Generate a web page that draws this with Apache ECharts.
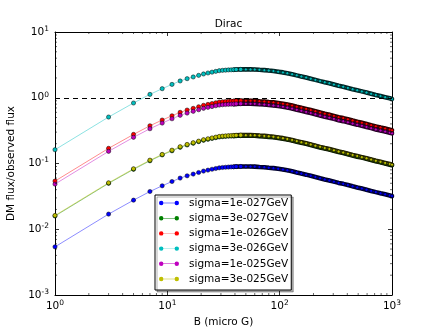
<!DOCTYPE html>
<html>
<head>
<meta charset="utf-8">
<script src="https://cdn.jsdelivr.net/npm/echarts@6/dist/echarts.min.js"></script>
<style>
  html, body { margin: 0; padding: 0; background: #fff; }
  #chart { width: 436px; height: 329px; }
</style>
</head>
<body>
<div id="chart"></div>
<script>
const FONT = "DejaVu Sans";

// magnetic field B (micro G), one entry per plotted point
const bField = [1, 3, 5, 7, 9, 11, 13, 15, 17, 19, 21, 23, 25, 27, 29,
  31, 33, 35, 37, 39, 41,
  45, 50, 55, 60, 66, 73, 80, 88, 97, 107, 117, 129, 142, 156, 172, 189, 208, 229,
  252, 277, 304, 335, 368, 405, 446, 490, 539, 593, 652, 718, 790, 869, 956, 1000];

const sigmaLabels = [
  "sigma=1e-027GeV", "sigma=3e-027GeV", "sigma=1e-026GeV",
  "sigma=3e-026GeV", "sigma=1e-025GeV", "sigma=3e-025GeV"
];
const sigmaColors = ["#0000ff", "#008000", "#ff0000", "#00bfbf", "#bf00bf", "#bfbf00"];
// where the markers pile up the curve reads as a dark band
const bandColors = ["#000030", "#001800", "#300000", "#002828", "#280028", "#282800"];

const flux1e27 = [0.0054, 0.0170, 0.0277, 0.0375, 0.0458, 0.0532, 0.0600, 0.0650, 0.0690, 0.0730,
  0.0767, 0.0793, 0.0817, 0.0840, 0.0860, 0.0870, 0.0877, 0.0883, 0.0887, 0.0890, 0.0897,
  0.0900, 0.0900, 0.0900, 0.0897, 0.0887, 0.0877, 0.0863, 0.0850, 0.0830, 0.0810, 0.0787,
  0.0760, 0.0730, 0.0703, 0.0677, 0.0650, 0.0623, 0.0597, 0.0573, 0.0553, 0.0530, 0.0507,
  0.0490, 0.0470, 0.0450, 0.0433, 0.0417, 0.0400, 0.0383, 0.0367, 0.0353, 0.0340, 0.0327, 0.0320];
const flux3e27 = [0.0159, 0.0499, 0.0815, 0.110, 0.135, 0.156, 0.176, 0.191, 0.203, 0.215,
  0.225, 0.233, 0.240, 0.247, 0.253, 0.256, 0.258, 0.260, 0.261, 0.262, 0.264,
  0.265, 0.265, 0.265, 0.264, 0.261, 0.258, 0.254, 0.250, 0.244, 0.238, 0.231,
  0.223, 0.215, 0.207, 0.199, 0.191, 0.183, 0.175, 0.169, 0.163, 0.156, 0.149,
  0.144, 0.138, 0.132, 0.127, 0.123, 0.118, 0.113, 0.108, 0.104, 0.100, 0.096, 0.094];
const flux1e26 = [0.054, 0.170, 0.277, 0.375, 0.458, 0.532, 0.600, 0.650, 0.690, 0.730,
  0.767, 0.793, 0.817, 0.840, 0.860, 0.870, 0.877, 0.883, 0.887, 0.890, 0.897,
  0.900, 0.900, 0.900, 0.897, 0.887, 0.877, 0.863, 0.850, 0.830, 0.810, 0.787,
  0.760, 0.730, 0.703, 0.677, 0.650, 0.623, 0.597, 0.573, 0.553, 0.530, 0.507,
  0.490, 0.470, 0.450, 0.433, 0.417, 0.400, 0.383, 0.367, 0.353, 0.340, 0.327, 0.320];
const flux3e26 = [0.162, 0.509, 0.832, 1.125, 1.374, 1.596, 1.80, 1.95, 2.07, 2.19,
  2.30, 2.38, 2.45, 2.52, 2.58, 2.61, 2.63, 2.65, 2.66, 2.67, 2.69,
  2.70, 2.70, 2.70, 2.69, 2.66, 2.63, 2.59, 2.55, 2.49, 2.43, 2.36,
  2.28, 2.19, 2.11, 2.03, 1.95, 1.87, 1.79, 1.72, 1.66, 1.59, 1.52,
  1.47, 1.41, 1.35, 1.30, 1.25, 1.20, 1.15, 1.10, 1.06, 1.02, 0.98, 0.96];
const flux1e25 = [0.0486, 0.153, 0.250, 0.338, 0.412, 0.479, 0.540, 0.585, 0.621, 0.657,
  0.690, 0.714, 0.735, 0.756, 0.774, 0.783, 0.789, 0.795, 0.798, 0.801, 0.807,
  0.810, 0.810, 0.810, 0.807, 0.798, 0.789, 0.777, 0.765, 0.747, 0.729, 0.708,
  0.684, 0.657, 0.633, 0.609, 0.585, 0.561, 0.537, 0.516, 0.498, 0.477, 0.456,
  0.441, 0.423, 0.405, 0.390, 0.375, 0.360, 0.345, 0.330, 0.318, 0.306, 0.294, 0.288];
const flux3e25 = [0.0162, 0.0509, 0.0832, 0.1125, 0.1374, 0.1596, 0.180, 0.195, 0.207, 0.219,
  0.230, 0.238, 0.245, 0.252, 0.258, 0.261, 0.263, 0.265, 0.266, 0.267, 0.269,
  0.270, 0.270, 0.270, 0.269, 0.266, 0.263, 0.259, 0.255, 0.249, 0.243, 0.236,
  0.228, 0.219, 0.211, 0.203, 0.195, 0.187, 0.179, 0.172, 0.166, 0.159, 0.152,
  0.147, 0.141, 0.135, 0.130, 0.125, 0.120, 0.115, 0.110, 0.106, 0.102, 0.098, 0.096];
const fluxSeries = [flux1e27, flux3e27, flux1e26, flux3e26, flux1e25, flux3e25];

const xRange = [1, 1000];
const yRange = [0.001, 10];
const observedLevel = 1;
const bandStart = 19; // index of B = 39, from here on the markers merge

// minor ticks at 2..9 of every decade
function minorTicks(lo, hi) {
  const out = [];
  for (let d = lo; d < hi; d *= 10) {
    for (let k = 2; k <= 9; k++) out.push(+(d * k).toPrecision(3));
  }
  return out;
}
const xMinor = minorTicks(xRange[0], xRange[1]);
const yMinor = minorTicks(yRange[0], yRange[1]);

const tickLabel = (v) => "{b|10}{e|" + Math.round(Math.log10(v)) + "}";
const tickRich = {
  b: { fontSize: 10.5, fontFamily: FONT, color: "#000" },
  e: { fontSize: 7.5, fontFamily: FONT, color: "#000", verticalAlign: "top", padding: [0, 0, 6, 0] }
};

function logAxis(range, position, withLabels, extra) {
  return Object.assign({
    type: "log",
    logBase: 10,
    min: range[0],
    max: range[1],
    position,
    axisLine: { show: true, onZero: false, lineStyle: { color: "#000", width: 1 } },
    axisTick: { show: true, inside: true, length: 4, lineStyle: { color: "#000", width: 0.8 } },
    axisLabel: withLabels
      ? { show: true, formatter: tickLabel, rich: tickRich, margin: position === "bottom" ? 4 : 6 }
      : { show: false },
    splitLine: { show: false },
    minorTick: { show: false }
  }, extra || {});
}

const bandSeries = sigmaLabels.map((name, i) => ({
  name: name + " band",
  type: "line",
  data: bField.map((b, j) => [b, fluxSeries[i][j]]).slice(bandStart),
  symbol: "none",
  lineStyle: { width: 4.6, color: bandColors[i], cap: "round" },
  silent: true,
  z: 3
}));

const lineSeries = sigmaLabels.map((name, i) => ({
  name,
  type: "line",
  data: bField.map((b, j) => [b, fluxSeries[i][j]]),
  symbol: "circle",
  symbolSize: (value, params) => (params.dataIndex > bandStart + 2 ? 3 : 4.2),
  showAllSymbol: true,
  lineStyle: { width: 1, color: sigmaColors[i], opacity: 0.45 },
  itemStyle: { color: sigmaColors[i], borderColor: "#000", borderWidth: 0.5 },
  emphasis: { disabled: true },
  z: 3
}));

// interleave so each curve's band sits right under its own markers
const curveSeries = [];
sigmaLabels.forEach((_, i) => curveSeries.push(bandSeries[i], lineSeries[i]));

// dashed reference line where DM flux equals observed flux
lineSeries[0].markLine = {
  silent: true,
  symbol: "none",
  label: { show: false },
  lineStyle: { color: "#000", width: 1, type: [5, 4] },
  data: [{ yAxis: observedLevel }]
};

const tickStyle = { stroke: "#000", lineWidth: 0.6 };

const minorXSeries = {
  type: "custom",
  silent: true,
  clip: false,
  encode: { x: 0, y: 1 },
  data: xMinor.map((v) => [v, 1]),
  renderItem(params, api) {
    const bot = api.coord([api.value(0), yRange[0]]);
    const top = api.coord([api.value(0), yRange[1]]);
    return {
      type: "group",
      children: [
        { type: "line", shape: { x1: bot[0], y1: bot[1], x2: bot[0], y2: bot[1] - 2 }, style: tickStyle },
        { type: "line", shape: { x1: top[0], y1: top[1], x2: top[0], y2: top[1] + 2 }, style: tickStyle }
      ]
    };
  },
  z: 4
};

const minorYSeries = {
  type: "custom",
  silent: true,
  clip: false,
  encode: { x: 0, y: 1 },
  data: yMinor.map((v) => [10, v]),
  renderItem(params, api) {
    const l = api.coord([xRange[0], api.value(1)]);
    const r = api.coord([xRange[1], api.value(1)]);
    return {
      type: "group",
      children: [
        { type: "line", shape: { x1: l[0], y1: l[1], x2: l[0] + 2, y2: l[1] }, style: tickStyle },
        { type: "line", shape: { x1: r[0], y1: r[1], x2: r[0] - 2, y2: r[1] }, style: tickStyle }
      ]
    };
  },
  z: 4
};

const chart = echarts.init(document.getElementById("chart"), null, { renderer: "canvas" });
chart.setOption({
  animation: false,
  backgroundColor: "#fff",
  textStyle: { fontFamily: FONT, color: "#000" },
  title: {
    text: "Dirac",
    left: 223.5,
    top: 14,
    textAlign: "center",
    textStyle: { fontSize: 10.5, fontWeight: "normal", color: "#000", fontFamily: FONT }
  },
  grid: { left: 55, right: 44, top: 32, bottom: 34, containLabel: false, outerBoundsMode: "none" },
  xAxis: [
    logAxis(xRange, "bottom", true, {
      name: "B (micro G)",
      nameLocation: "middle",
      nameGap: 13,
      nameTextStyle: { fontSize: 10.5, color: "#000", fontFamily: FONT }
    }),
    logAxis(xRange, "top", false)
  ],
  yAxis: [
    logAxis(yRange, "left", true, {
      name: "DM flux/observed flux",
      nameLocation: "middle",
      nameGap: 31,
      nameRotate: 90,
      nameTextStyle: { fontSize: 10.5, color: "#000", fontFamily: FONT }
    }),
    logAxis(yRange, "right", false)
  ],
  legend: {
    data: sigmaLabels,
    orient: "vertical",
    left: 155,
    top: 195,
    padding: [2, 3, 5, 4],
    itemGap: 3.2,
    itemWidth: 20,
    itemHeight: 4.5,
    icon: "path://M0,3A3,3,0,1,0,6,3A3,3,0,1,0,0,3ZM21,3A3,3,0,1,0,27,3A3,3,0,1,0,21,3ZM6,2.7L21,2.7L21,3.3L6,3.3Z",
    itemStyle: { borderWidth: 0 },
    backgroundColor: "#fff",
    borderColor: "#000",
    borderWidth: 1,
    borderRadius: 0,
    shadowColor: "rgba(0,0,0,0.3)",
    shadowBlur: 0,
    shadowOffsetX: 2,
    shadowOffsetY: 2,
    selectedMode: false,
    textStyle: { fontSize: 10.5, fontFamily: FONT, color: "#000", lineHeight: 12, padding: [0, 0, 0, 5] }
  },
  series: [...curveSeries, minorXSeries, minorYSeries]
});
</script>
</body>
</html>
